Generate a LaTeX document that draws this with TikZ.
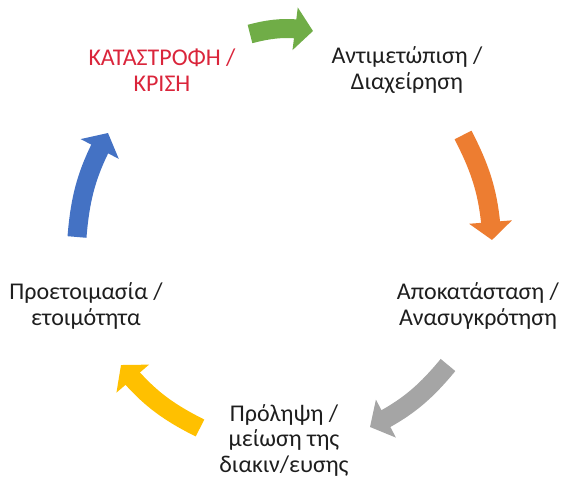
\documentclass[tikz,border=0pt]{standalone}
\usepackage{fontspec}
\setmainfont{Carlito}
\usetikzlibrary{arrows.meta}
\usetikzlibrary{bending}
\definecolor{cycgreen}{RGB}{112,173,71}
\definecolor{cycorange}{RGB}{237,125,49}
\definecolor{cycgray}{RGB}{165,165,165}
\definecolor{cycyellow}{RGB}{255,192,0}
\definecolor{cycblue}{RGB}{68,114,196}
\definecolor{crisisred}{RGB}{218,37,59}
\definecolor{txtgray}{RGB}{30,30,30}

\begin{document}
\begin{tikzpicture}[x=1pt,y=1pt,
  lbl/.style={align=center, text=txtgray, font=\fontsize{24}{25.5}\selectfont, inner sep=0pt},
  cycarrow/.style={line width=19pt, -{Triangle[width=42pt,length=18pt]}}]
\useasboundingbox (0,0) rectangle (563,-479);
% stages of the cycle
\node[lbl, text=crisisred] (crisis) at (162,-70) {ΚΑΤΑΣΤΡΟΦΗ /\\ΚΡΙΣΗ};
\node[lbl] (response) at (407,-70) {Αντιμετώπιση /\\Διαχείρηση};
\node[lbl] (recovery) at (478,-306) {Αποκατάσταση /\\Ανασυγκρότηση};
\node[lbl] (prevention) at (284,-440) {Πρόληψη /\\μείωση της\\διακιν/ευσης};
\node[lbl] (prepare) at (86,-306) {Προετοιμασία /\\ετοιμότητα};
% arrow ends
\coordinate (gA) at (250,-34); \coordinate (gB) at (313,-31);
\coordinate (oA) at (463,-135); \coordinate (oB) at (492,-240);
\coordinate (sA) at (448,-365); \coordinate (sB) at (370,-427);
\coordinate (yA) at (200,-428); \coordinate (yB) at (121,-365);
\coordinate (bA) at (77,-237); \coordinate (bB) at (108,-133);
\foreach \s/\e/\c in {gA/gB/cycgreen, oA/oB/cycorange, sA/sB/cycgray, yA/yB/cycyellow, bA/bB/cycblue} {
 \draw[cycarrow, draw=\c] (\s) to[bend left=12] (\e);
}
\end{tikzpicture}
\end{document}
